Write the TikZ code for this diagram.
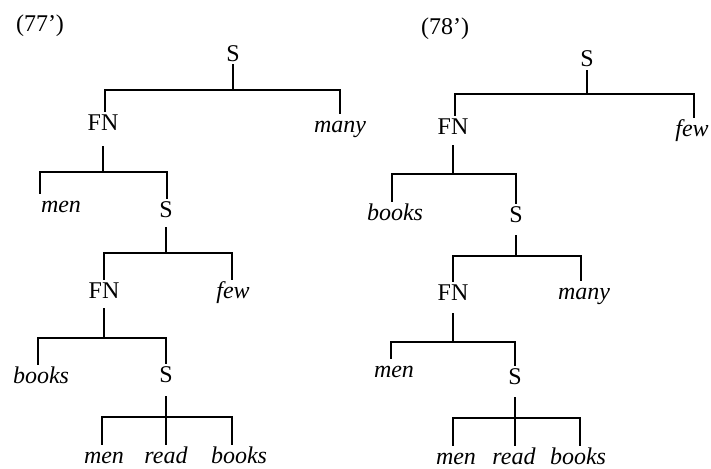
\documentclass[tikz,border=0pt]{standalone}
\usepackage{fontspec}
\setmainfont{Liberation Serif}
\begin{document}
\begin{tikzpicture}[x=1pt,y=-1pt,
  lbl/.style={anchor=base,inner sep=0pt,text height=18pt,text depth=10pt,font=\fontsize{24}{28}\selectfont},
  cat/.style={lbl},
  leaf/.style={lbl,font=\fontsize{24}{28}\selectfont\itshape},
  lowleaf/.style={leaf,text depth=0pt},
  edge/.style={line width=1.2pt,black}]
\useasboundingbox (0,0) rectangle (711,468);

% ---------- (77') ----------
\node[lbl] (lab1) at (40,32) {(77’)};
\node[cat,text depth=2pt] (aS0) at (233,62) {S};
\node[cat,text depth=16pt] (aFN1) at (103,130) {FN};
\node[leaf] (amany) at (340,132) {many};
\node[leaf] (amen1) at (61,212) {men};
\node[cat] (aS2) at (166,217) {S};
\node[cat] (aFN3) at (104,298) {FN};
\node[leaf] (afew) at (233,298) {few};
\node[leaf] (abooks3) at (41,383) {books};
\node[cat,text depth=14pt] (aS4) at (166,382) {S};
\node[lowleaf] (amen5) at (104,463) {men};
\node[lowleaf] (aread5) at (166,463) {read};
\node[lowleaf] (abooks5) at (239,463) {books};

\coordinate (a0l) at (105,90);  \coordinate (a0r) at (340,90);
\coordinate (a1l) at (40,172);  \coordinate (a1r) at (167,172);
\coordinate (a2l) at (104,253); \coordinate (a2r) at (232,253);
\coordinate (a3l) at (38,338);  \coordinate (a3r) at (166,338);
\coordinate (a4l) at (102,417); \coordinate (a4r) at (232,417);

\draw[edge] (aS0.south) -- (aS0.south |- a0l);
\draw[edge] (a0l |- aFN1.north) -- (a0l) -- (a0r) -- (a0r |- amany.north);
\draw[edge] (aFN1.south) -- (aFN1.south |- a1l);
\draw[edge] (a1l |- amen1.north) -- (a1l) -- (a1r) -- (a1r |- aS2.north);
\draw[edge] (aS2.south) -- (aS2.south |- a2l);
\draw[edge] (a2l |- aFN3.north) -- (a2l) -- (a2r) -- (a2r |- afew.north);
\draw[edge] (aFN3.south) -- (aFN3.south |- a3l);
\draw[edge] (a3l |- abooks3.north) -- (a3l) -- (a3r) -- (a3r |- aS4.north);
\draw[edge] (aS4.south) -- (aread5.north);
\draw[edge] (a4l |- amen5.north) -- (a4l) -- (a4r) -- (a4r |- abooks5.north);

% ---------- (78') ----------
\node[lbl] (lab2) at (445,35) {(78’)};
\node[cat,text depth=3pt] (bS0) at (587,67) {S};
\node[cat,text depth=11pt] (bFN1) at (453,134) {FN};
\node[leaf] (bfew) at (692,136) {few};
\node[leaf] (bbooks1) at (395,220) {books};
\node[cat,text depth=13pt] (bS2) at (516,222) {S};
\node[cat,text depth=13pt] (bFN3) at (453,300) {FN};
\node[leaf] (bmany) at (584,299) {many};
\node[leaf] (bmen3) at (394,377) {men};
\node[cat,text depth=13pt] (bS4) at (515,384) {S};
\node[lowleaf] (bmen5) at (456,464) {men};
\node[lowleaf] (bread5) at (514,464) {read};
\node[lowleaf] (bbooks5) at (578,464) {books};

\coordinate (b0l) at (455,94);  \coordinate (b0r) at (694,94);
\coordinate (b1l) at (392,174); \coordinate (b1r) at (516,174);
\coordinate (b2l) at (453,256); \coordinate (b2r) at (581,256);
\coordinate (b3l) at (391,342); \coordinate (b3r) at (515,342);
\coordinate (b4l) at (453,418); \coordinate (b4r) at (580,418);

\draw[edge] (bS0.south) -- (bS0.south |- b0l);
\draw[edge] (b0l |- bFN1.north) -- (b0l) -- (b0r) -- (b0r |- bfew.north);
\draw[edge] (bFN1.south) -- (bFN1.south |- b1l);
\draw[edge] (b1l |- bbooks1.north) -- (b1l) -- (b1r) -- (b1r |- bS2.north);
\draw[edge] (bS2.south) -- (bS2.south |- b2l);
\draw[edge] (b2l |- bFN3.north) -- (b2l) -- (b2r) -- (b2r |- bmany.north);
\draw[edge] (bFN3.south) -- (bFN3.south |- b3l);
\draw[edge] (b3l |- bmen3.north) -- (b3l) -- (b3r) -- (b3r |- bS4.north);
\draw[edge] (bS4.south) -- (bS4.south |- bread5.north);
\draw[edge] (b4l |- bmen5.north) -- (b4l) -- (b4r) -- (b4r |- bbooks5.north);
\end{tikzpicture}
\end{document}
